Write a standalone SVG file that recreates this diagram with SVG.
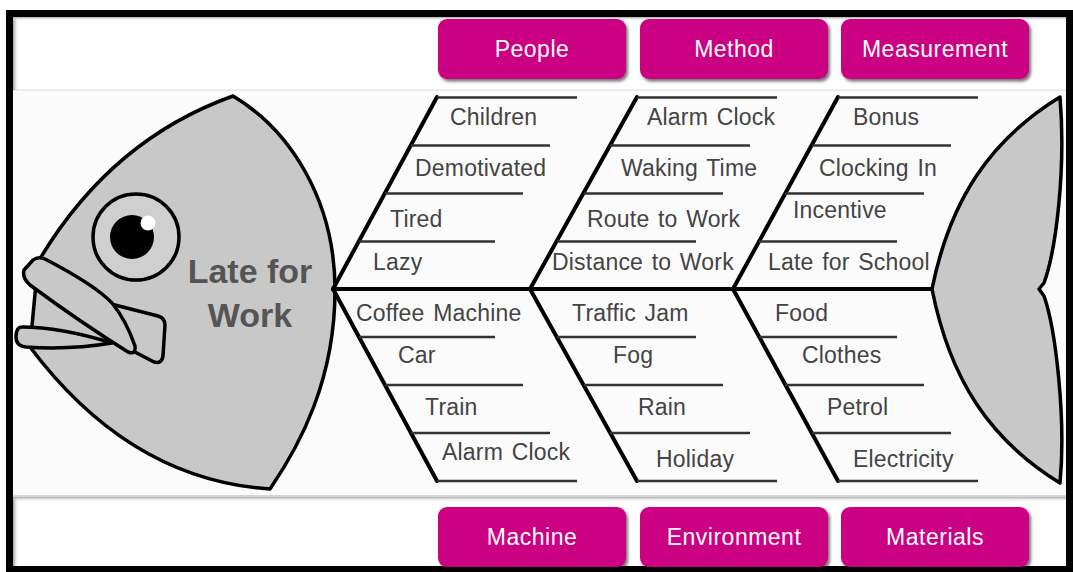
<svg xmlns="http://www.w3.org/2000/svg" width="1073" height="572" viewBox="0 0 1073 572">
<defs>
<style>
.fish{fill:#c8c8c8;stroke:#000;stroke-width:3.5;stroke-linejoin:round}
.btn{fill:#cc0082;filter:url(#sh)}
.btxt{font-family:"Liberation Sans",Arial,sans-serif;font-size:23px;fill:#fff;text-anchor:middle;letter-spacing:0.5px}
.lbl{font-family:"Liberation Sans",Arial,sans-serif;font-size:23px;fill:#444;letter-spacing:0.2px;word-spacing:2px}
.head{font-family:"Liberation Sans",Arial,sans-serif;font-size:34px;font-weight:bold;fill:#555;text-anchor:middle}
.bone{stroke:#000;stroke-width:4;fill:none;stroke-linecap:round}
.sub{stroke:#333;stroke-width:2.5;fill:none}
</style>
<filter id="sh" x="-10%" y="-20%" width="125%" height="150%">
<feDropShadow dx="2" dy="2.5" stdDeviation="1.8" flood-color="#000" flood-opacity="0.55"/>
</filter>
<linearGradient id="shL" x1="0" y1="0" x2="1" y2="0">
<stop offset="0" stop-color="#999"/><stop offset="1" stop-color="#fff" stop-opacity="0"/>
</linearGradient>
<linearGradient id="shT" x1="0" y1="0" x2="0" y2="1">
<stop offset="0" stop-color="#aaa"/><stop offset="1" stop-color="#fff" stop-opacity="0"/>
</linearGradient>
</defs>

<g id="background">
<rect x="0" y="0" width="1073" height="572" fill="#fff"/>
<rect x="13" y="90" width="1055" height="406" fill="#fbfbfb"/>
<line x1="13" y1="90" x2="1068" y2="90" stroke="#e6e6e6" stroke-width="1.5"/>
<line x1="13" y1="496" x2="1068" y2="496" stroke="#c8c8c8" stroke-width="1.5"/>
<rect x="13" y="17" width="6" height="73" fill="url(#shL)"/>
<rect x="13" y="17" width="1055" height="4" fill="url(#shT)"/>
<rect x="13" y="497" width="6" height="70" fill="url(#shL)"/>
<rect x="13" y="497" width="1055" height="5" fill="url(#shT)"/>
<rect x="9.5" y="13.5" width="1060" height="556" fill="none" stroke="#000" stroke-width="7"/>
</g>

<g id="head">
<path class="fish" d="M38,262 Q110,140 233,96 C290,130 335,200 335,290 C335,380 300,445 270,489 Q130,480 30,347 Z"/>
<path class="fish" d="M107,303 L158,316 Q165,318 165,325 L163,356 Q162,364 154,362 L133,351 Z"/>
<path class="fish" d="M33,260 Q38,256 45,259 Q95,285 112,303 Q126,320 135,346 Q136,355 128,352 Q80,322 30,285 Q22,278 24,270 Z"/>
<path class="fish" d="M22,327 Q60,327 112,343 Q70,350 26,347 Q16,346 16,337 Q16,327 22,327 Z"/>
<circle cx="136" cy="237" r="43" fill="#cfcfcf" stroke="#000" stroke-width="3.5"/>
<circle cx="132" cy="237" r="22" fill="#000"/>
<circle cx="148" cy="223" r="7.5" fill="#fff"/>
<text class="head" x="250" y="283">Late for</text>
<text class="head" x="250" y="327">Work</text>
</g>

<g id="tail">
<path class="fish" d="M932,289 C950,200 990,140 1060,97 C1066,170 1056,250 1044,283 L1039,289 L1044,296 C1056,330 1066,420 1060,483 C990,440 950,380 932,289 Z"/>
</g>

<g id="connectors">
<line class="bone" x1="333" y1="289" x2="932" y2="289"/>
<line class="bone" x1="333" y1="289" x2="437" y2="97"/>
<line class="bone" x1="530" y1="289" x2="637" y2="97"/>
<line class="bone" x1="733" y1="289" x2="838" y2="97"/>
<line class="bone" x1="333" y1="289" x2="437" y2="481"/>
<line class="bone" x1="530" y1="289" x2="637" y2="481"/>
<line class="bone" x1="733" y1="289" x2="838" y2="481"/>
<path class="sub" d="M437,97.5H577M411,145.5H550M385,193.5H523M359,241.5H495"/>
<path class="sub" d="M637,97.5H777M610,145.5H750M584,193.5H723M557,241.5H696"/>
<path class="sub" d="M838,97.5H978M812,145.5H951M785,193.5H924M759,241.5H897"/>
<path class="sub" d="M359,337H495M385,385H523M411,433H550M437,481H577"/>
<path class="sub" d="M557,337H696M584,385H723M610,433H750M637,481H777"/>
<path class="sub" d="M759,337H897M785,385H924M812,433H951M838,481H978"/>
</g>

<g id="people">
<rect class="btn" x="438" y="19" width="188" height="60" rx="9"/>
<text class="btxt" x="532" y="57">People</text>
<text class="lbl" x="450" y="125">Children</text>
<text class="lbl" x="415" y="176">Demotivated</text>
<text class="lbl" x="390" y="227">Tired</text>
<text class="lbl" x="373" y="270">Lazy</text>
</g>
<g id="method">
<rect class="btn" x="640" y="19" width="188" height="60" rx="9"/>
<text class="btxt" x="734" y="57">Method</text>
<text class="lbl" x="647" y="125">Alarm Clock</text>
<text class="lbl" x="621" y="176">Waking Time</text>
<text class="lbl" x="587" y="227">Route to Work</text>
<text class="lbl" x="552" y="270">Distance to Work</text>
</g>
<g id="measurement">
<rect class="btn" x="841" y="19" width="188" height="60" rx="9"/>
<text class="btxt" x="935" y="57">Measurement</text>
<text class="lbl" x="853" y="125">Bonus</text>
<text class="lbl" x="819" y="176">Clocking In</text>
<text class="lbl" x="793" y="218">Incentive</text>
<text class="lbl" x="768" y="270">Late for School</text>
</g>
<g id="machine">
<rect class="btn" x="438" y="507" width="188" height="60" rx="9"/>
<text class="btxt" x="532" y="545">Machine</text>
<text class="lbl" x="356" y="321">Coffee Machine</text>
<text class="lbl" x="398" y="363">Car</text>
<text class="lbl" x="425" y="415">Train</text>
<text class="lbl" x="442" y="460">Alarm Clock</text>
</g>
<g id="environment">
<rect class="btn" x="640" y="507" width="188" height="60" rx="9"/>
<text class="btxt" x="734" y="545">Environment</text>
<text class="lbl" x="572" y="321">Traffic Jam</text>
<text class="lbl" x="613" y="363">Fog</text>
<text class="lbl" x="638" y="415">Rain</text>
<text class="lbl" x="656" y="467">Holiday</text>
</g>
<g id="materials">
<rect class="btn" x="841" y="507" width="188" height="60" rx="9"/>
<text class="btxt" x="935" y="545">Materials</text>
<text class="lbl" x="775" y="321">Food</text>
<text class="lbl" x="802" y="363">Clothes</text>
<text class="lbl" x="827" y="415">Petrol</text>
<text class="lbl" x="853" y="467">Electricity</text>
</g>
</svg>
